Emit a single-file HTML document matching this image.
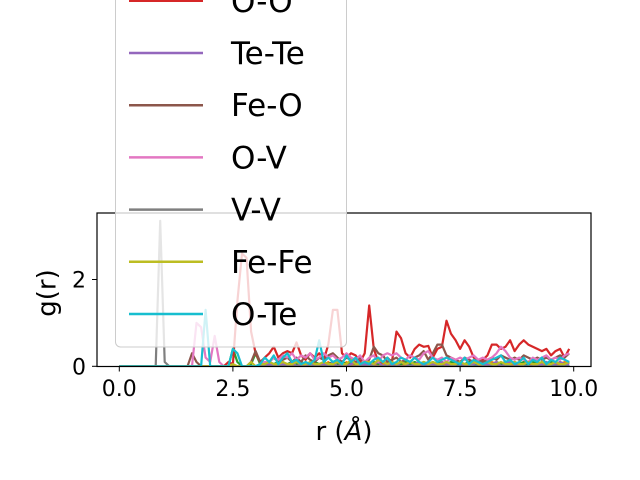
<!DOCTYPE html>
<html><head><meta charset="utf-8"><style>
body{margin:0;background:#fff}
svg{display:block;font-family:"DejaVu Sans","Liberation Sans",sans-serif}
</style></head><body>
<svg id="chart" width="640" height="480" viewBox="0 0 640 480">
<rect width="640" height="480" fill="#fff"/>
<defs><clipPath id="clip"><rect x="97" y="213" width="494" height="154"/></clipPath></defs>
<g id="lines" clip-path="url(#clip)"></g>
<rect x="97" y="213" width="494" height="153.5" fill="none" stroke="#000" stroke-width="1.2"/>
<g id="ticks"></g>
<text x="48" y="293" font-size="26" text-anchor="middle" transform="rotate(-90 48 293)" dominant-baseline="middle">g(r)</text>
<text x="344" y="440" font-size="26" text-anchor="middle">r (<tspan font-style="italic">Å</tspan>)</text>
<g id="legend"></g>
</svg>
<script>
const labels=["Fe-V","Fe-Te","O-O0","O-O","Te-Te","Fe-O","O-V","V-V","Fe-Fe","O-Te"];
const colors=["#1f77b4","#ff7f0e","#2ca02c","#d62728","#9467bd","#8c564b","#e377c2","#7f7f7f","#bcbd22","#17becf"];
const xTicks=[0,2.5,5,7.5,10];
const xTickLabels=["0.0","2.5","5.0","7.5","10.0"];
const yTicks=[0,2];
const yTickLabels=["0","2"];
const rStep=0.1;
const sBlue=[0,0,0,0,0,0,0,0,0,0,0,0,0,0,0,0,0,0,0,0,0,0,0,0,0,0,0,0,0,0,0,0,0,0,0,0,0,0,0,0,0,0,0,0,0,0,0.05,0,0,0,0.05,0,0,0,0.05,0,0.05,0,0,0.05,0,0,0.05,0,0,0.05,0,0,0.05,0,0,0.05,0,0,0.05,0,0.05,0,0,0.05,0,0.05,0,0,0.05,0,0.05,0,0,0.05,0,0.05,0,0.05,0,0,0.05,0,0.05,0];
const sOrange=[0,0,0,0,0,0,0,0,0,0,0,0,0,0,0,0,0,0,0,0,0,0,0,0,0,0,0,0,0,0,0,0,0,0,0,0,0.1,0,0,0.05,0,0.1,0,0,0.05,0,0.1,0,0.05,0,0.1,0,0.05,0,0.1,0,0.05,0,0.05,0.1,0,0.05,0,0.05,0.1,0.05,0,0.05,0.1,0,0.05,0.1,0,0.05,0.05,0.1,0,0.05,0.1,0.05,0,0.05,0.1,0.05,0.05,0.1,0.05,0,0.05,0.1,0.05,0.05,0.1,0.05,0.05,0.1,0.05,0.05,0.1,0.05];
const sGreen=[0,0,0,0,0,0,0,0,0,0,0,0,0,0,0,0,0,0,0,0,0,0,0,0,0,0.4,0.1,0,0,0.05,0.3,0.05,0.05,0.1,0.05,0.1,0.05,0.05,0.1,0.05,0.1,0.05,0.05,0.1,0.05,0.1,0.05,0.1,0.05,0.1,0.05,0.1,0.05,0.1,0.05,0.05,0.1,0.05,0.1,0.05,0.1,0.05,0.05,0.1,0.05,0.1,0.05,0.1,0.05,0.1,0.05,0.1,0.05,0.1,0.05,0.1,0.05,0.1,0.05,0.1,0.05,0.1,0.05,0.1,0.05,0.1,0.05,0.1,0.05,0.1,0.05,0.1,0.05,0.1,0.05,0.1,0.05,0.1,0.05,0.1];
const sRed=[0,0,0,0,0,0,0,0,0,0,0,0,0,0,0,0,0,0,0,0,0,0,0,0,0.1,0.05,1.5,2.6,2.5,0.8,0.3,0.1,0.2,0.3,0.45,0.2,0.3,0.35,0.3,0.55,0.25,0.15,0.3,0.2,0.3,0.15,0.5,1.3,1.3,0.3,0.2,0.3,0.25,0.1,0.3,1.4,0.4,0.1,0.1,0.2,0.1,0.8,0.65,0.3,0.2,0.4,0.5,0.45,0.47,0.2,0.4,0.45,1.05,0.75,0.6,0.4,0.6,0.45,0.2,0.1,0.15,0.25,0.5,0.5,0.4,0.45,0.6,0.35,0.5,0.6,0.5,0.45,0.4,0.35,0.4,0.25,0.35,0.4,0.2,0.4];
const sPurple=[0,0,0,0,0,0,0,0,0,0,0,0,0,0,0,0,0,0,0,0,0,0,0,0,0,0,0,0,0,0,0,0,0,0.05,0,0,0.05,0,0.1,0,0.05,0,0.1,0,0.05,0.05,0,0.1,0,0.05,0,0.05,0.1,0,0.05,0,0.05,0.1,0,0.05,0.05,0,0.1,0.05,0,0.05,0.1,0,0.05,0.05,0,0.1,0.05,0,0.05,0.1,0,0.05,0.05,0.1,0,0.05,0.05,0.1,0,0.05,0.1,0.05,0,0.05,0.1,0.05,0,0.05,0.1,0.05,0.05,0.1,0.05,0.05];
const sBrown=[0,0,0,0,0,0,0,0,0,0,0,0,0,0,0,0,0.3,0.1,0,0,0,0,0,0,0,0,0,0,0,0.1,0.35,0.1,0.05,0.1,0.2,0.1,0.15,0.2,0.1,0.2,0.1,0.25,0.15,0.1,0.2,0.15,0.25,0.3,0.2,0.1,0.2,0.15,0.1,0.2,0.1,0.15,0.45,0.3,0.25,0.1,0.15,0.2,0.1,0.15,0.1,0.2,0.25,0.35,0.15,0.3,0.5,0.5,0.25,0.2,0.15,0.1,0.2,0.15,0.1,0.15,0.1,0.15,0.2,0.15,0.25,0.2,0.15,0.2,0.15,0.25,0.2,0.15,0.2,0.15,0.2,0.15,0.2,0.25,0.2,0.3];
const sPink=[0,0,0,0,0,0,0,0,0,0,0,0,0,0,0,0,0,1.0,0.9,0.2,0.1,0.7,0.1,0,0,0,0,0,0,0,0,0.05,0.1,0.1,0.2,0.15,0.25,0.2,0.3,0.15,0.25,0.2,0.3,0.15,0.2,0.3,0.2,0.25,0.15,0.2,0.3,0.2,0.15,0.25,0.1,0.2,0.25,0.1,0.25,0.3,0.25,0.3,0.2,0.15,0.25,0.2,0.15,0.3,0.35,0.2,0.15,0.2,0.1,0.2,0.15,0.2,0.15,0.2,0.25,0.15,0.2,0.15,0.2,0.3,0.45,0.35,0.2,0.15,0.2,0.15,0.1,0.2,0.15,0.2,0.25,0.15,0.2,0.15,0.25,0.3];
const sGrey=[0,0,0,0,0,0,0,0,0,3.35,0.1,0,0,0,0,0,0,0,0,0,0,0,0,0,0,0,0,0,0,0,0,0,0,0,0,0,0,0,0,0,0,0,0,0,0,0,0,0,0,0,0,0,0,0,0,0,0,0,0,0,0,0,0,0,0,0,0,0,0,0,0,0,0,0,0,0,0,0,0,0,0,0,0,0,0,0,0,0,0,0,0,0,0,0,0,0,0,0,0,0];
const sOlive=[0,0,0,0,0,0,0,0,0,0,0,0,0,0,0,0,0,0,0,0,0,0,0,0,0,0.05,0,0,0,0.1,0,0.05,0.05,0.1,0.05,0.05,0.1,0.05,0.05,0.1,0.05,0.05,0.1,0.05,0.05,0.1,0.05,0.05,0.1,0.05,0.05,0.15,0.05,0.05,0.1,0.1,0.05,0.15,0.1,0.05,0.1,0.05,0.1,0.05,0.1,0.05,0.05,0.1,0.05,0.1,0.05,0.05,0.1,0.05,0.05,0.1,0.05,0.05,0.1,0.05,0.05,0.1,0.05,0.05,0.1,0.05,0.05,0.1,0.05,0.05,0.1,0.05,0.05,0.1,0.05,0.05,0.1,0.05,0.05,0.1];
const sCyan=[0,0,0,0,0,0,0,0,0,0,0,0,0,0,0,0,0,0,0,0,0,0,0,0,0,0,0,0,0,0,0,0,0,0,0,0,0,0,0,0,0,0,0,0,0,0,0,0,0,0,0,0,0,0,0,0,0,0,0,0,0,0,0,0,0,0,0,0,0,0,0,0,0,0,0,0,0,0,0,0,0,0,0,0,0,0,0,0,0,0,0,0,0,0,0,0,0,0,0,0];
const sCyanB=[0,0,0,0,0,0,0,0,0,0,0,0,0,0,0,0,0,0,0,1.3,0,0,0,0,0,0.4,0.3,0,0,0,0,0.05,0.2,0.1,0.25,0.05,0.2,0.3,0.1,0.15,0.05,0.1,0.05,0.15,0.6,0.1,0.2,0.1,0.15,0.05,0.25,0.1,0.2,0.05,0.1,0.05,0.15,0.2,0.1,0.2,0.05,0.1,0.2,0.15,0.1,0.2,0.1,0.05,0.1,0.2,0.1,0.15,0.2,0.15,0.1,0.05,0.2,0.05,0.15,0.1,0.05,0.1,0.15,0.2,0.25,0.1,0.15,0.05,0.1,0.2,0.05,0.15,0.1,0.2,0.05,0.15,0.1,0.2,0.15,0.1];
const series=[sBlue,sOrange,sGreen,sRed,sPurple,sBrown,sPink,sGrey,sOlive,sCyanB];
const NS="http://www.w3.org/2000/svg";
const X0=119.3,XS=45.44,Y0=366.3,YS=43.4;
const xs=v=>X0+v*XS, ys=v=>Y0-v*YS;
const lines=document.getElementById('lines');
series.forEach((vals,k)=>{
  const p=document.createElementNS(NS,'polyline');
  p.setAttribute('points',vals.map((v,i)=>xs(i*rStep).toFixed(1)+','+ys(v).toFixed(1)).join(' '));
  p.setAttribute('fill','none');p.setAttribute('stroke',colors[k]);p.setAttribute('stroke-width','2.2');p.setAttribute('stroke-linejoin','round');
  
  
  lines.appendChild(p);
});
const ticks=document.getElementById('ticks');
xTicks.forEach((t,i)=>{
  const l=document.createElementNS(NS,'line');
  l.setAttribute('x1',xs(t));l.setAttribute('x2',xs(t));l.setAttribute('y1',366.5);l.setAttribute('y2',371.5);l.setAttribute('stroke','#000');
  
  
  ticks.appendChild(l);
  const tx=document.createElementNS(NS,'text');
  tx.setAttribute('x',xs(t));tx.setAttribute('y',396);tx.setAttribute('font-size','22');tx.setAttribute('text-anchor','middle');
  tx.textContent=xTickLabels[i];
  
  
  ticks.appendChild(tx);
});
yTicks.forEach((t,i)=>{
  const l=document.createElementNS(NS,'line');
  l.setAttribute('x1',92);l.setAttribute('x2',97);l.setAttribute('y1',ys(t));l.setAttribute('y2',ys(t));l.setAttribute('stroke','#000');
  
  
  ticks.appendChild(l);
  const tx=document.createElementNS(NS,'text');
  tx.setAttribute('x',86);tx.setAttribute('y',ys(t)+8);tx.setAttribute('font-size','22');tx.setAttribute('text-anchor','end');
  tx.textContent=yTickLabels[i];
  
  
  ticks.appendChild(tx);
});
const lg=document.getElementById('legend');
const fr=document.createElementNS(NS,'rect');
fr.setAttribute('x',115.5);fr.setAttribute('y',-200);fr.setAttribute('width',231);fr.setAttribute('height',547);fr.setAttribute('rx',5);
fr.setAttribute('fill','rgba(255,255,255,0.8)');fr.setAttribute('stroke','#cccccc');


lg.appendChild(fr);
labels.forEach((lab,k)=>{
  const y=314-(9-k)*52.2;
  const l=document.createElementNS(NS,'line');
  l.setAttribute('x1',129);l.setAttribute('x2',203);l.setAttribute('y1',y);l.setAttribute('y2',y);l.setAttribute('stroke',colors[k]);l.setAttribute('stroke-width','2.5');
  
  
  lg.appendChild(l);
  const t=document.createElementNS(NS,'text');
  t.setAttribute('x',231);t.setAttribute('y',y+11);t.setAttribute('font-size','31');
  t.textContent=lab;
  
  
  lg.appendChild(t);
});
</script>
</body></html>
